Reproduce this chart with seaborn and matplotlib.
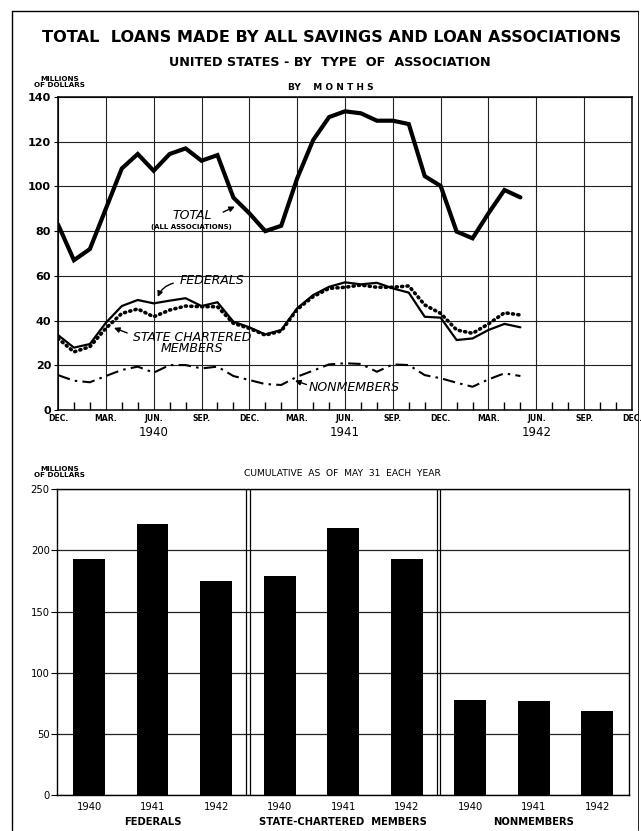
import numpy as np
import pandas as pd
import matplotlib
matplotlib.use("Agg")
import matplotlib.pyplot as plt
import seaborn as sns
from matplotlib.lines import Line2D

# ---------------- data ----------------
# monthly, Dec 1939 .. May 1942 (30 months)
months_index = list(range(30))
total = [83, 67, 72, 90, 108, 114.5, 107, 114.5, 117, 111.5, 114, 95, 88,
         80, 82.4, 103.6, 120.7, 131, 133.6, 132.7, 129.4, 129.4, 127.9, 104.6, 100.2,
         79.8, 76.8, 88, 98.4, 95.1]
federals = [33.5, 27.9, 29.5, 39, 46.5, 49.2, 47.7, 48.9, 50, 46.5, 48.2, 39.5, 37,
            33.8, 35.8, 45.5, 51.4, 55.1, 57.1, 56.2, 56.9, 54.4, 52.5, 41.7, 41.3,
            31.3, 32, 35.8, 38.5, 37]
state_chartered = [32, 26, 28.3, 36.5, 43.2, 45.2, 41.7, 44.7, 46.5, 46.2, 46.2, 38.8, 36.5,
                   33.5, 35.3, 45, 50.7, 54.4, 54.9, 55.9, 54.9, 54.9, 55.5, 47, 43.2,
                   35.8, 34.3, 38.5, 43.5, 42.5]
nonmembers = [15.6, 13.1, 12.4, 15.2, 17.9, 19.4, 16.7, 20.1, 20.1, 18.6, 19.4, 15.2, 13.4,
              11.6, 11.2, 14.9, 17.6, 20.4, 20.9, 20.6, 17.1, 20.4, 20.1, 15.6, 14.2,
              12.2, 10.4, 13.7, 16.4, 15.2]
month_tick_labels = ["DEC.", "MAR.", "JUN.", "SEP."] * 3 + ["DEC."]
year_labels = ["1940", "1941", "1942"]

groups = ["FEDERALS", "STATE-CHARTERED  MEMBERS", "NONMEMBERS"]
bar_years = ["1940", "1941", "1942"]
fed_cum = [193, 222, 175]
state_cum = [179.5, 218.5, 193]
non_cum = [78, 76.5, 68.5]

# ---------------- figure ----------------
sns.set_style("ticks")
plt.rcParams["font.family"] = ["DejaVu Sans"]
plt.rcParams["axes.edgecolor"] = "black"
plt.rcParams["xtick.color"] = "black"
plt.rcParams["ytick.color"] = "black"
plt.rcParams["text.color"] = "black"
plt.rcParams["axes.labelcolor"] = "black"

W, H = 641, 831
fig = plt.figure(figsize=(W / 100, H / 100), dpi=100)

def fx(px):
    return px / W

def fy(py):
    return 1 - py / H

# frame
fig.add_artist(Line2D([fx(11.5), fx(11.5)], [fy(11), fy(830)], color="black", lw=1.0, transform=fig.transFigure))
fig.add_artist(Line2D([fx(11.5), fx(638)], [fy(11), fy(11)], color="black", lw=1.0, transform=fig.transFigure))
fig.add_artist(Line2D([fx(638), fx(638)], [fy(11), fy(830)], color="black", lw=0.6, transform=fig.transFigure))

# titles
fig.text(fx(332), fy(38), "TOTAL  LOANS MADE BY ALL SAVINGS AND LOAN ASSOCIATIONS",
         ha="center", va="center", fontsize=11.6, fontweight="bold", color="black")
fig.text(fx(330), fy(62), "UNITED STATES - BY  TYPE  OF  ASSOCIATION",
         ha="center", va="center", fontsize=9.2, fontweight="bold", color="black")
fig.text(fx(331), fy(87), "BY    M O N T H S", ha="center", va="center",
         fontsize=6.5, fontweight="bold", color="black")
fig.text(fx(60), fy(82), "MILLIONS\nOF DOLLARS", ha="center", va="center",
         fontsize=5.2, fontweight="bold", linespacing=0.95, color="black")

# ---------------- top line chart ----------------
ax1 = fig.add_axes([fx(58), fy(410), fx(632) - fx(58), fy(97) - fy(410)])
df = pd.DataFrame({"month": months_index, "TOTAL": total, "FEDERALS": federals,
                   "STATE CHARTERED": state_chartered, "NONMEMBERS": nonmembers})

sns.lineplot(data=df, x="month", y="TOTAL", ax=ax1, color="black", lw=3.0,
             solid_joinstyle="miter")
sns.lineplot(data=df, x="month", y="FEDERALS", ax=ax1, color="black", lw=1.6)
sns.lineplot(data=df, x="month", y="STATE CHARTERED", ax=ax1, color="black", lw=2.6,
             linestyle=(0, (0.3, 1.2)), dash_capstyle="round")
sns.lineplot(data=df, x="month", y="NONMEMBERS", ax=ax1, color="black", lw=1.5,
             linestyle=(0, (6, 2.5, 1.2, 2.5)))

ax1.set_xlim(0, 36)
ax1.set_ylim(0, 140)
ax1.set_xlabel("")
ax1.set_ylabel("")
ax1.set_xticks(np.arange(0, 37, 3))
ax1.set_xticks(np.arange(0, 37, 1), minor=True)
ax1.set_xticklabels(month_tick_labels, fontsize=5.6, fontweight="bold", color="black")
ax1.set_yticks(np.arange(0, 141, 20))
ax1.set_yticklabels([str(v) for v in range(0, 141, 20)], fontsize=8, fontweight="bold",
                    color="black")
ax1.tick_params(axis="x", which="major", direction="in", length=0, pad=3)
ax1.tick_params(axis="x", which="minor", direction="in", length=6, width=1.0)
ax1.tick_params(axis="y", which="major", direction="out", length=3, pad=2)
ax1.grid(True, which="major", color="#222222", lw=0.8)
ax1.set_axisbelow(True)
for s in ax1.spines.values():
    s.set_linewidth(1.1)

for i, yl in enumerate(year_labels):
    ax1.text(6 + 12 * i, -10, yl, ha="center", va="center", fontsize=8.5, clip_on=False,
             color="black")

# annotations
ann_font = dict(fontsize=9, style="italic", fontweight="medium", color="black")
ax1.text(8.4, 87.2, "TOTAL", ha="center", va="center", **ann_font)
ax1.text(8.35, 81.8, "(ALL ASSOCIATIONS)", ha="center", va="center", fontsize=5,
         fontweight="bold", color="black")
ax1.annotate("", xy=(11.25, 91.5), xytext=(10.2, 88),
             arrowprops=dict(arrowstyle="-|>", color="black", lw=1.0, mutation_scale=8))
ax1.text(9.63, 57.7, "FEDERALS", ha="center", va="center", **ann_font)
ax1.annotate("", xy=(6.2, 49.4), xytext=(7.4, 57),
             arrowprops=dict(arrowstyle="-|>", color="black", lw=1.0, mutation_scale=8,
                             connectionstyle="arc3,rad=0.3"))
ax1.text(8.44, 32.4, "STATE CHARTERED", ha="center", va="center", **ann_font)
ax1.text(8.39, 27.3, "MEMBERS", ha="center", va="center", **ann_font)
ax1.annotate("", xy=(3.35, 37.2), xytext=(4.5, 34.0),
             arrowprops=dict(arrowstyle="-|>", color="black", lw=1.0, mutation_scale=8))
ax1.text(18.55, 10.2, "NONMEMBERS", ha="center", va="center", **ann_font)
ax1.annotate("", xy=(14.7, 13.5), xytext=(15.75, 11.0),
             arrowprops=dict(arrowstyle="-|>", color="black", lw=1.0, mutation_scale=8))

# ---------------- bottom bar chart ----------------
fig.text(fx(60), fy(472), "MILLIONS\nOF DOLLARS", ha="center", va="center",
         fontsize=5.2, fontweight="bold", linespacing=0.95, color="black")
fig.text(fx(342), fy(474), "CUMULATIVE  AS  OF  MAY  31  EACH  YEAR", ha="center",
         va="center", fontsize=6.6, color="black")

ax2 = fig.add_axes([fx(57.3), fy(795), fx(629) - fx(57.3), fy(489.3) - fy(795)])
slots = [f"{g}|{y}" for g in groups for y in bar_years]
bdf = pd.DataFrame({"slot": slots,
                    "value": fed_cum + state_cum + non_cum})
sns.barplot(data=bdf, x="slot", y="value", order=slots, color="black",
            width=0.5, ax=ax2, saturation=1, edgecolor="black", linewidth=0)
ax2.set_xlim(-0.5, 8.5)
ax2.set_ylim(0, 250)
ax2.set_xlabel("")
ax2.set_ylabel("")
ax2.set_yticks(np.arange(0, 251, 50))
ax2.set_yticklabels([str(v) for v in range(0, 251, 50)], fontsize=7.2, color="black")
ax2.set_xticks(range(9))
ax2.set_xticklabels(bar_years * 3, fontsize=7.2, color="black")
ax2.tick_params(axis="x", length=0, pad=5)
ax2.tick_params(axis="y", direction="out", length=4, pad=1.5)
ax2.grid(True, axis="y", color="#222222", lw=0.9)
ax2.set_axisbelow(True)
for s in ax2.spines.values():
    s.set_linewidth(1.0)
for xd in (2.47, 2.53, 5.47, 5.53):
    ax2.axvline(xd, color="black", lw=0.9)
for i, g in enumerate(groups):
    ax2.text(1 + 3 * i, -22, g, ha="center", va="center", fontsize=7.2,
             fontweight="bold", clip_on=False, color="black")

fig.savefig("out.png", dpi=100)
